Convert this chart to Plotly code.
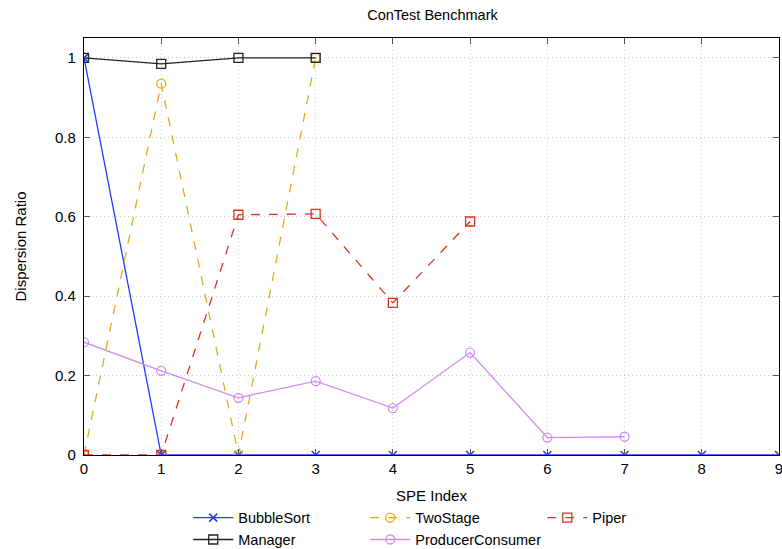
import plotly.graph_objects as go

x_bubble = [0, 1, 2, 3, 4, 5, 6, 7, 8, 9]
y_bubble = [1, 0, 0, 0, 0, 0, 0, 0, 0, 0]
x_manager = [0, 1, 2, 3]
y_manager = [1.0, 0.985, 1.0, 1.0]
x_twostage = [0, 1, 2, 3]
y_twostage = [0.0, 0.935, 0.0, 1.0]
x_piper = [0, 1, 2, 3, 4, 5]
y_piper = [0.0, 0.0, 0.605, 0.607, 0.383, 0.588]
x_pc = [0, 1, 2, 3, 4, 5, 6, 7]
y_pc = [0.284, 0.212, 0.144, 0.186, 0.118, 0.258, 0.044, 0.046]

FONT = "Liberation Sans, Arial, Helvetica, sans-serif"

fig = go.Figure()
fig.add_trace(go.Scatter(x=x_bubble, y=y_bubble, name="BubbleSort", mode="lines+markers",
                         line=dict(color="#1f3cff", width=1.3),
                         marker=dict(symbol="x-thin", size=8, line=dict(color="#1f3cff", width=1.5)),
                         legendrank=1))
fig.add_trace(go.Scatter(x=x_twostage, y=y_twostage, name="TwoStage", mode="lines+markers",
                         line=dict(color="#e8a81a", width=1.3, dash="dash"),
                         marker=dict(symbol="circle-open", size=9, color="#e8a81a", line=dict(width=1.3)),
                         legendrank=2))
fig.add_trace(go.Scatter(x=x_piper, y=y_piper, name="Piper", mode="lines+markers",
                         line=dict(color="#e0321e", width=1.3, dash="dash"),
                         marker=dict(symbol="square-open", size=9, color="#e0321e", line=dict(width=1.3)),
                         legendrank=3))
fig.add_trace(go.Scatter(x=x_manager, y=y_manager, name="Manager", mode="lines+markers",
                         line=dict(color="#222222", width=1.3),
                         marker=dict(symbol="square-open", size=9, color="#222222", line=dict(width=1.3)),
                         legendrank=4))
fig.add_trace(go.Scatter(x=x_pc, y=y_pc, name="ProducerConsumer", mode="lines+markers",
                         line=dict(color="#d48cf2", width=1.3),
                         marker=dict(symbol="circle-open", size=9, color="#d48cf2", line=dict(width=1.3)),
                         legendrank=5))

axis_common = dict(showline=True, linecolor="black", linewidth=1.2, mirror="allticks",
                   ticks="inside", ticklen=6, tickcolor="#555555", tickwidth=1,
                   showgrid=True, gridcolor="#c8c8c8", griddash="1px,3px", gridwidth=1,
                   zeroline=False, tickfont=dict(size=15, color="black", family=FONT))

fig.update_xaxes(range=[0, 9], tickvals=list(range(10)), ticklabeloverflow="allow",
                 title=dict(text="SPE Index", font=dict(size=15), standoff=14),
                 **axis_common)
fig.update_yaxes(range=[0, 1.05], tickvals=[0, 0.2, 0.4, 0.6, 0.8, 1.0],
                 ticktext=["0", "0.2", "0.4", "0.6", "0.8", "1"],
                 title=dict(text="Dispersion Ratio", font=dict(size=15), standoff=24),
                 ticklabelstandoff=4, **axis_common)

fig.update_layout(
    width=782, height=549,
    margin=dict(l=84, r=3, t=38, b=94, autoexpand=False),
    paper_bgcolor="white", plot_bgcolor="white",
    font=dict(family=FONT, size=15, color="black"),
    title=dict(text="ConTest Benchmark", x=0.553, xanchor="center", y=0.972, yanchor="middle",
               font=dict(size=14.5)),
    legend=dict(orientation="h", x=0.15, xanchor="left", y=-0.112, yanchor="top",
                entrywidth=122, entrywidthmode="pixels", font=dict(size=14.5),
                tracegroupgap=0, itemwidth=40, bgcolor="rgba(0,0,0,0)"),
    showlegend=True,
)

fig.write_html("out.html")
